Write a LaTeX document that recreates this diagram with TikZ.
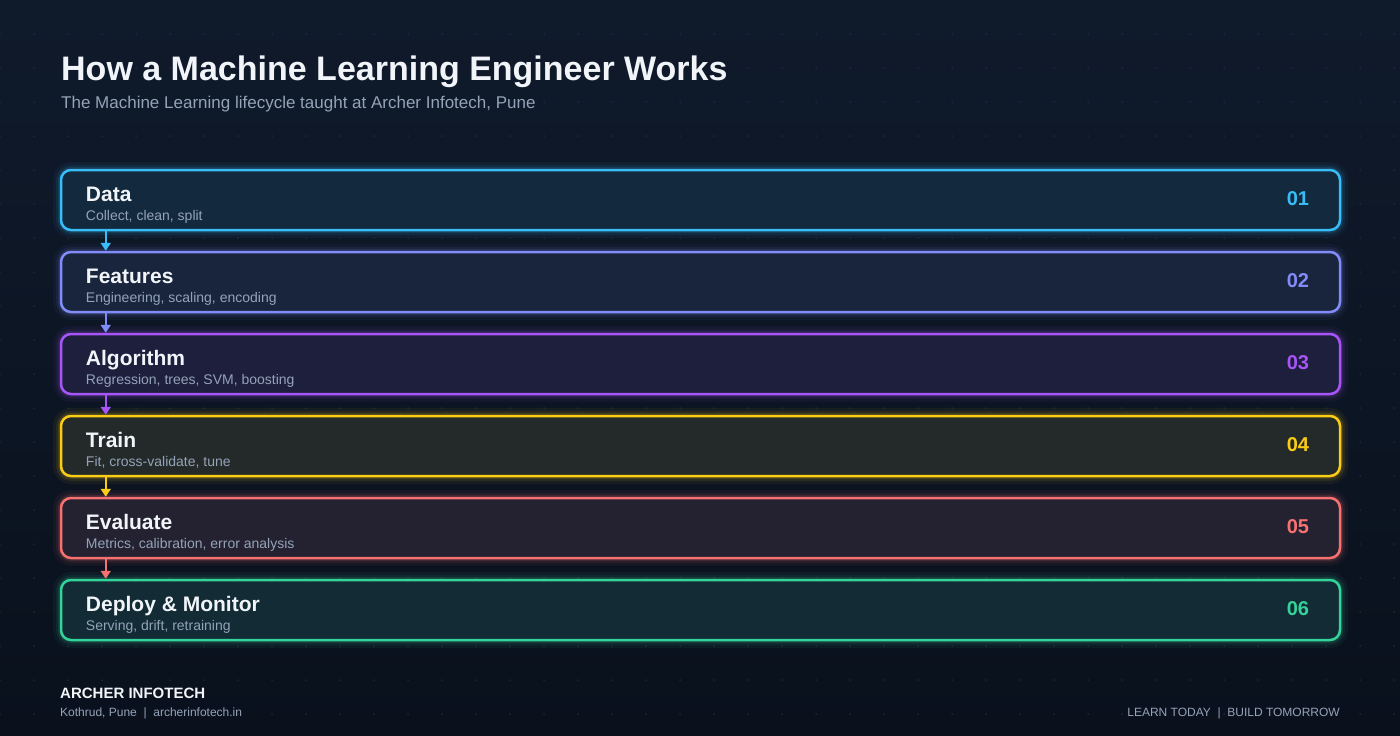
\documentclass[tikz,border=0pt]{standalone}
\usepackage{fontspec}
\setmainfont{Liberation Sans}
\usetikzlibrary{arrows.meta}

\definecolor{bgTop}{HTML}{0F1A2B}
\definecolor{bgBot}{HTML}{0A111D}
\definecolor{dotc}{HTML}{28354D}
\definecolor{txtW}{HTML}{F1F5F9}
\definecolor{txtG}{HTML}{94A3B8}
\definecolor{cData}{HTML}{38BDF8}
\definecolor{cFeat}{HTML}{818CF8}
\definecolor{cAlgo}{HTML}{A855F7}
\definecolor{cTrain}{HTML}{FACC15}
\definecolor{cEval}{HTML}{F87171}
\definecolor{cDeploy}{HTML}{34D399}

\tikzset{
  stage/.style={draw=#1, fill=#1!9!bgTop, rounded corners=10pt, line width=2.5pt,
    minimum width=1279pt, minimum height=60pt, inner sep=0pt,
    preaction={draw=#1, draw opacity=.05, line width=16pt},
    preaction={draw=#1, draw opacity=.08, line width=10pt},
    preaction={draw=#1, draw opacity=.12, line width=6pt}},
  stitle/.style={anchor=base west, inner sep=0pt, text=txtW, font=\fontsize{21}{25}\selectfont\bfseries},
  ssub/.style={anchor=base west, inner sep=0pt, text=txtG, font=\fontsize{14}{17}\selectfont},
  snum/.style={anchor=east, inner sep=0pt, font=\fontsize{20}{24}\selectfont\bfseries},
  link/.style={draw=#1, line width=2pt, -{Triangle[length=8pt,width=10pt]}}
}

\begin{document}
\begin{tikzpicture}[x=1pt,y=-1pt]
  \useasboundingbox (0,0) rectangle (1400,736);
  \shade[top color=bgTop, bottom color=bgBot] (0,0) rectangle (1400,736);
  % dot grid
  \foreach \i in {0,...,41}
    \foreach \j in {1,...,21}
      \fill[dotc] (34*\i,34*\j) circle (0.75);

  % heading
  \node[anchor=base west, inner sep=0pt, text=txtW, font=\fontsize{34}{40}\selectfont\bfseries] (head) at (61,80) {How a Machine Learning Engineer Works};
  \node[anchor=base west, inner sep=0pt, text=txtG, font=\fontsize{17}{20}\selectfont] (subhead) at (61,108) {The Machine Learning lifecycle taught at Archer Infotech, Pune};

  % stages
  \node[stage=cData] (data) at (700.5,200) {};
  \node[stage=cFeat] (feat) at (700.5,282) {};
  \node[stage=cAlgo] (algo) at (700.5,364) {};
  \node[stage=cTrain] (train) at (700.5,446) {};
  \node[stage=cEval] (eval) at (700.5,528) {};
  \node[stage=cDeploy] (deploy) at (700.5,610) {};

  \node[stitle] (dataT) at ([xshift=26pt,yshift=-1pt]data.west) {Data};
  \node[ssub] (dataS) at ([xshift=26pt,yshift=-20pt]data.west) {Collect, clean, split};
  \node[snum, text=cData] (dataN) at ([xshift=-32pt,yshift=1pt]data.east) {01};

  \node[stitle] (featT) at ([xshift=26pt,yshift=-1pt]feat.west) {Features};
  \node[ssub] (featS) at ([xshift=26pt,yshift=-20pt]feat.west) {Engineering, scaling, encoding};
  \node[snum, text=cFeat] (featN) at ([xshift=-32pt,yshift=1pt]feat.east) {02};

  \node[stitle] (algoT) at ([xshift=26pt,yshift=-1pt]algo.west) {Algorithm};
  \node[ssub] (algoS) at ([xshift=26pt,yshift=-20pt]algo.west) {Regression, trees, SVM, boosting};
  \node[snum, text=cAlgo] (algoN) at ([xshift=-32pt,yshift=1pt]algo.east) {03};

  \node[stitle] (trainT) at ([xshift=26pt,yshift=-1pt]train.west) {Train};
  \node[ssub] (trainS) at ([xshift=26pt,yshift=-20pt]train.west) {Fit, cross-validate, tune};
  \node[snum, text=cTrain] (trainN) at ([xshift=-32pt,yshift=1pt]train.east) {04};

  \node[stitle] (evalT) at ([xshift=26pt,yshift=-1pt]eval.west) {Evaluate};
  \node[ssub] (evalS) at ([xshift=26pt,yshift=-20pt]eval.west) {Metrics, calibration, error analysis};
  \node[snum, text=cEval] (evalN) at ([xshift=-32pt,yshift=1pt]eval.east) {05};

  \node[stitle] (deployT) at ([xshift=26pt,yshift=-1pt]deploy.west) {Deploy \& Monitor};
  \node[ssub] (deployS) at ([xshift=26pt,yshift=-20pt]deploy.west) {Serving, drift, retraining};
  \node[snum, text=cDeploy] (deployN) at ([xshift=-32pt,yshift=1pt]deploy.east) {06};

  % links
  \draw[link=cData] ([xshift=46pt]data.south west) -- ([xshift=46pt]feat.north west);
  \draw[link=cFeat] ([xshift=46pt]feat.south west) -- ([xshift=46pt]algo.north west);
  \draw[link=cAlgo] ([xshift=46pt]algo.south west) -- ([xshift=46pt]train.north west);
  \draw[link=cTrain] ([xshift=46pt]train.south west) -- ([xshift=46pt]eval.north west);
  \draw[link=cEval] ([xshift=46pt]eval.south west) -- ([xshift=46pt]deploy.north west);

  % footer
  \node[anchor=base west, inner sep=0pt, text=txtW, font=\fontsize{15}{18}\selectfont\bfseries] (brand) at (60,698) {ARCHER INFOTECH};
  \node[anchor=base west, inner sep=0pt, text=txtG, font=\fontsize{12}{14}\selectfont] (addr) at (60,716) {Kothrud, Pune\ \ |\ \ archerinfotech.in};
  \node[anchor=base east, inner sep=0pt, text=txtG, font=\fontsize{12}{14}\selectfont] (motto) at (1340,716) {LEARN TODAY\ \ |\ \ BUILD TOMORROW};
\end{tikzpicture}
\end{document}
